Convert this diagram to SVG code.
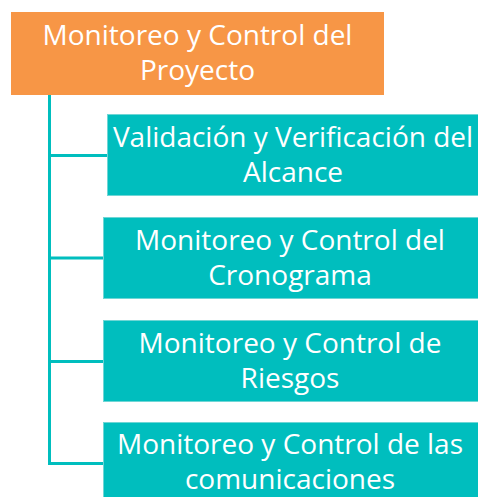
<svg xmlns="http://www.w3.org/2000/svg" width="478" height="497" viewBox="0 0 478 497">
<style>
.lbl{font-family:"Open Sans","Liberation Sans",sans-serif;font-size:28px;fill:#ffffff;text-anchor:middle}
.teal{fill:#00BEBE;stroke:#6FD6D5;stroke-width:1}
.conn{fill:none;stroke:#00BEBE;stroke-width:3}
</style>
<rect width="478" height="497" fill="#ffffff"/>
<g id="connectors">
<path class="conn" d="M49.5,95 V463.5 H104"/>
<path class="conn" d="M49.5,155.5 H108"/>
<path class="conn" d="M49.5,258 H104"/>
<path class="conn" d="M49.5,361.5 H104"/>
</g>
<g id="root">
<rect x="11" y="12" width="373" height="83" fill="#F79646"/>
<text class="lbl" x="197.5" y="45">Monitoreo y Control del</text>
<text class="lbl" x="197.5" y="80">Proyecto</text>
</g>
<g id="n1">
<rect class="teal" x="107.5" y="114.5" width="372" height="81"/>
<text class="lbl" x="293" y="147">Validación y Verificación del</text>
<text class="lbl" x="293" y="182">Alcance</text>
</g>
<g id="n2">
<rect class="teal" x="103.5" y="217.5" width="376" height="81"/>
<text class="lbl" x="290" y="250">Monitoreo y Control del</text>
<text class="lbl" x="290" y="285">Cronograma</text>
</g>
<g id="n3">
<rect class="teal" x="103.5" y="320.5" width="376" height="81"/>
<text class="lbl" x="290" y="353">Monitoreo y Control de</text>
<text class="lbl" x="290" y="388">Riesgos</text>
</g>
<g id="n4">
<rect class="teal" x="103.5" y="422.5" width="376" height="81"/>
<text class="lbl" x="290" y="454">Monitoreo y Control de las</text>
<text class="lbl" x="290" y="489">comunicaciones</text>
</g>
</svg>
